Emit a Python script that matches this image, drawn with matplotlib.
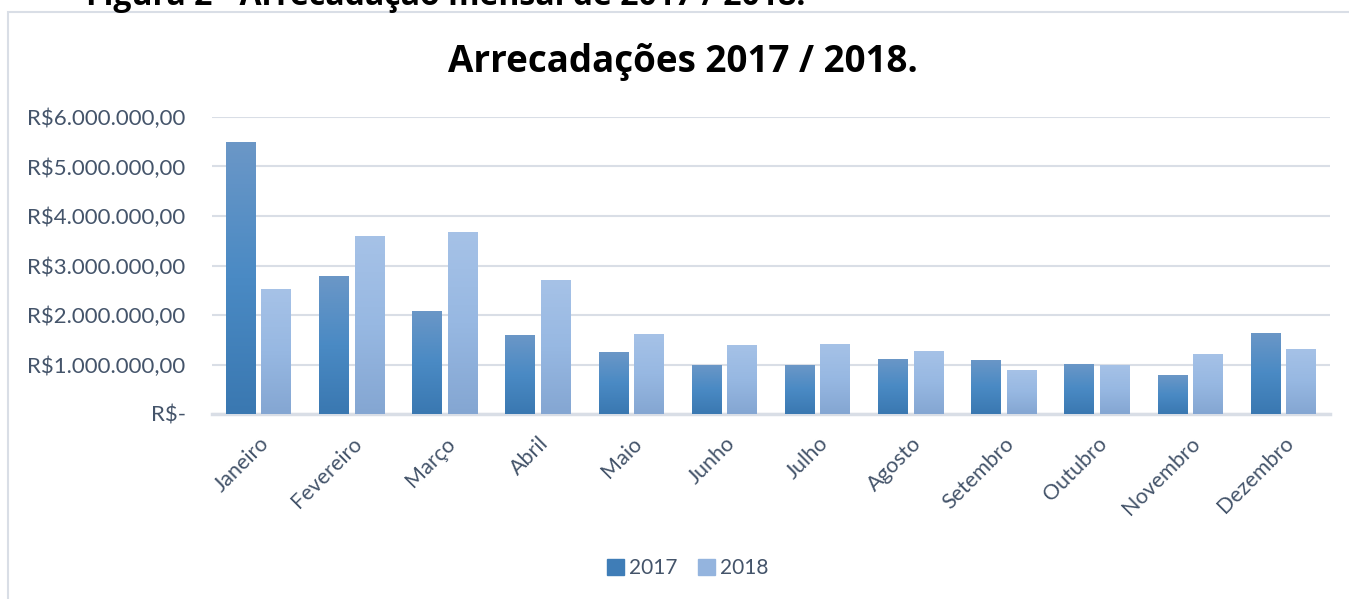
import numpy as np
import matplotlib.pyplot as plt
from matplotlib.colors import LinearSegmentedColormap
from matplotlib.patches import Rectangle
from matplotlib.ticker import FuncFormatter

meses = ['Janeiro', 'Fevereiro', 'Março', 'Abril', 'Maio', 'Junho',
         'Julho', 'Agosto', 'Setembro', 'Outubro', 'Novembro', 'Dezembro']
arrec_2017 = [5.49e6, 2.78e6, 2.09e6, 1.59e6, 1.25e6, 1.00e6,
              0.98e6, 1.12e6, 1.10e6, 1.02e6, 0.78e6, 1.64e6]
arrec_2018 = [2.52e6, 3.59e6, 3.67e6, 2.70e6, 1.61e6, 1.40e6,
              1.42e6, 1.28e6, 0.88e6, 1.00e6, 1.22e6, 1.32e6]

W, H = 1349, 599
fig = plt.figure(figsize=(W / 100, H / 100), dpi=100)
fig.patch.set_facecolor('white')
ax = fig.add_axes([212 / W, 1 - 414 / H, (1330 - 212) / W, (414 - 117) / H])

txt = '#44546A'
font = 'Lato'

# caption above the chart, cut off by the image edge
fig.text(446 / W, 1 - 5 / H, 'Figura 2 - Arrecadação mensal de 2017 / 2018.',
         ha='center', va='baseline', fontsize=23, fontweight='bold',
         family='Open Sans', color='black')

# chart frame
fig.add_artist(Rectangle((8 / W, -0.2), 1.2, 1.2 - 12 / H, transform=fig.transFigure,
                         fill=False, edgecolor='#D9DEE6', linewidth=1.5))

cmap17 = LinearSegmentedColormap.from_list('c17', ['#3A78B1', '#4A8AC4', '#6B97C7'])
cmap18 = LinearSegmentedColormap.from_list('c18', ['#84A6D2', '#97B8E2', '#A6C2E7'])
grad = np.linspace(0, 1, 256).reshape(-1, 1)

x = np.arange(len(meses))
w = 0.32
off = 0.19
b17 = ax.bar(x - off, arrec_2017, w, color='#4A8AC4', label='2017', zorder=2)
b18 = ax.bar(x + off, arrec_2018, w, color='#97B8E2', label='2018', zorder=2)

for bars, cm in ((b17, cmap17), (b18, cmap18)):
    for bar in bars:
        x0, y0 = bar.get_x(), bar.get_y()
        bw, bh = bar.get_width(), bar.get_height()
        im = ax.imshow(grad, cmap=cm, origin='lower', aspect='auto',
                       extent=(x0, x0 + bw, y0, y0 + bh), zorder=3)
        im.set_clip_path(bar)

ax.set_xlim(-0.5, len(meses) - 0.5)
ax.set_ylim(0, 6e6)
ax.set_yticks(np.arange(0, 6.1e6, 1e6))


def brl(v, pos):
    if v == 0:
        return 'R$-'
    s = f'{v:,.2f}'.replace(',', 'X').replace('.', ',').replace('X', '.')
    return 'R$' + s


ax.yaxis.set_major_formatter(FuncFormatter(brl))
ax.grid(axis='y', color='#D9DEE6', linewidth=1.5, zorder=0)
ax.set_axisbelow(True)
for s in ['top', 'right', 'left']:
    ax.spines[s].set_visible(False)
ax.spines['bottom'].set_color('#D9DEE6')
ax.spines['bottom'].set_linewidth(2.5)
ax.tick_params(axis='both', length=0, colors=txt)
ax.tick_params(axis='y', pad=19, labelsize=16)
ax.set_xticks(x)
ax.set_xticklabels(meses, rotation=45, ha='right', rotation_mode='anchor',
                   fontsize=15.5, family=font)
ax.tick_params(axis='x', pad=14)
for lab in ax.get_yticklabels():
    lab.set_family(font)

fig.text(683 / W, 1 - 62 / H, 'Arrecadações 2017 / 2018.', ha='center', va='center',
         fontsize=26.5, fontweight='bold', family='Open Sans', color='black')

leg = ax.legend(handles=[b17, b18], loc='center', bbox_to_anchor=(688 / W, 1 - 568 / H),
                bbox_transform=fig.transFigure, ncol=2, frameon=False,
                prop={'family': font, 'size': 15}, handlelength=0.8, handleheight=0.8,
                handletextpad=0.25, columnspacing=1.0, labelcolor=txt)
leg.legend_handles[0].set_color('#3F7DB7')
leg.legend_handles[1].set_color('#94B4DE')

fig.savefig('out.png', dpi=100)
